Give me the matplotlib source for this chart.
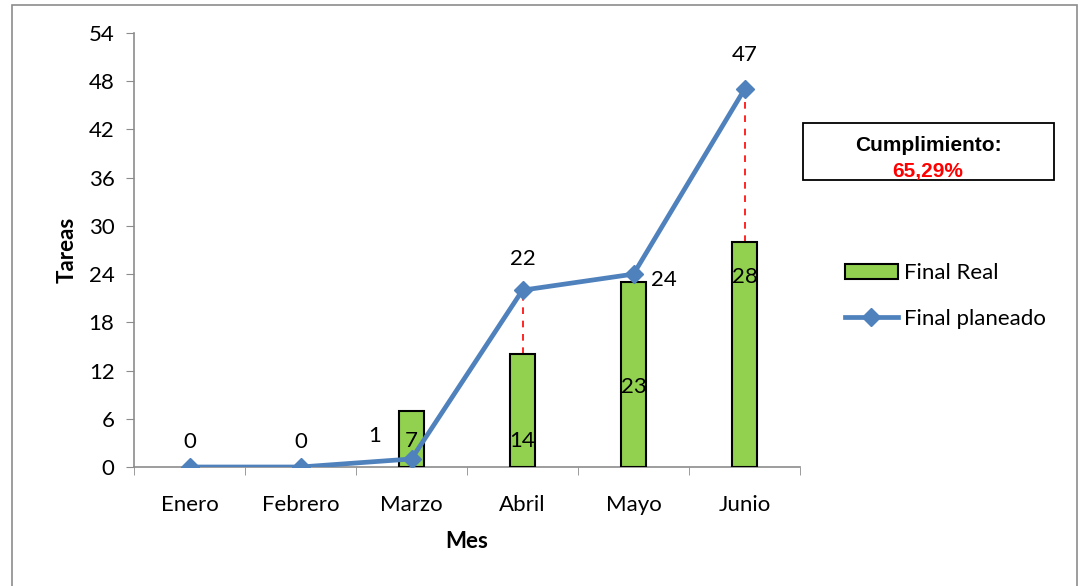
import numpy as np
import matplotlib.pyplot as plt
from matplotlib.patches import Rectangle

meses = ['Enero', 'Febrero', 'Marzo', 'Abril', 'Mayo', 'Junio']
final_real = [0, 0, 7, 14, 23, 28]
final_planeado = [0, 0, 1, 22, 24, 47]
cumplimiento = '65,29%'

plt.rcParams['font.family'] = ['Lato', 'DejaVu Sans']
FS = 16

fig = plt.figure(figsize=(10.8, 5.86), dpi=100)
# borde exterior del grafico
fig.patches.append(Rectangle((12 / 1080, -0.05), 1065 / 1080, 1.05 - 5 / 586, transform=fig.transFigure,
                             fill=False, edgecolor='#8c8c8c', linewidth=1.2))
ax = fig.add_axes([134 / 1080, 119 / 586, 666 / 1080, 434 / 586])

x = np.arange(len(meses))
mask = np.array(final_real) > 0
bars = ax.bar(x[mask], np.array(final_real)[mask], width=0.23, color='#92D050', edgecolor='black',
              linewidth=1.5, zorder=3, label='Final Real')

# lineas punteadas entre real y planeado
for xi, r, p in zip(x, final_real, final_planeado):
    if p > r and r > 0:
        ax.plot([xi, xi], [r, p], color='red', linestyle=(0, (4, 4)), linewidth=1.2, zorder=2)

line, = ax.plot(x, final_planeado, color='#4F81BD', linewidth=3.4, marker='D', markersize=9.5,
                zorder=4, label='Final planeado')

# etiquetas de la serie planeada
offs = {0: (0, 3.1), 1: (0, 3.1), 2: (-0.33, 2.9), 3: (0, 3.9), 4: (0.27, -0.7), 5: (0, 4.3)}
for i, v in enumerate(final_planeado):
    dx, dy = offs[i]
    ax.text(x[i] + dx, v + dy, str(v), ha='center', va='center', fontsize=FS, zorder=5)

# etiquetas de las barras
bar_y = {2: 3.2, 3: 3.2, 4: 9.9, 5: 23.6}
for i, y in bar_y.items():
    ax.text(x[i], y, str(final_real[i]), ha='center', va='center', fontsize=FS, zorder=5)

ax.set_xlim(-0.5, 5.5)
ax.set_ylim(0, 54)
ax.set_yticks(np.arange(0, 55, 6))
ax.set_xticks(x)
ax.set_xticklabels(meses)
ax.set_xticks(np.arange(-0.5, 6, 1), minor=True)
ax.tick_params(axis='x', which='major', length=0, pad=20, labelsize=FS)
ax.tick_params(axis='x', which='minor', length=6, color='#8c8c8c', direction='out')
ax.tick_params(axis='y', length=6, color='#8c8c8c', labelsize=FS, pad=8)
for s in ['top', 'right']:
    ax.spines[s].set_visible(False)
for s in ['left', 'bottom']:
    ax.spines[s].set_color('#8c8c8c')
    ax.spines[s].set_linewidth(1.2)

ax.set_xlabel('Mes', fontsize=FS, fontweight='bold', labelpad=12)
ax.set_ylabel('Tareas', fontsize=FS, fontweight='bold', labelpad=8)

ax.legend([bars, line], ['Final Real', 'Final planeado'], loc='upper left',
          bbox_to_anchor=(1.037, 0.515), frameon=False, fontsize=FS,
          handlelength=2.4, labelspacing=1.15, handletextpad=0.25)

# recuadro de cumplimiento
fig.patches.append(Rectangle((803 / 1080, 1 - 180 / 586), 251 / 1080, 57 / 586,
                             transform=fig.transFigure, fill=False, edgecolor='black',
                             linewidth=1.3))
fig.text(928 / 1080, 1 - 146 / 586, 'Cumplimiento:', ha='center', va='center',
         fontsize=15, fontweight='bold', family='Liberation Sans')
fig.text(928 / 1080, 1 - 172 / 586, cumplimiento, ha='center', va='center',
         fontsize=15, fontweight='bold', color='red', family='Liberation Sans')

fig.savefig('out.png', dpi=100)
